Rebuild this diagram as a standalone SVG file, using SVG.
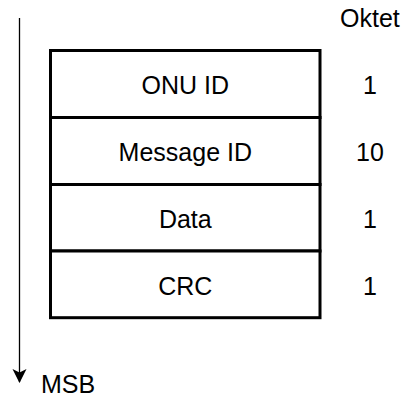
<svg xmlns="http://www.w3.org/2000/svg" width="401" height="399" viewBox="0 0 401 399">
<style>
text{font-family:"Liberation Sans",Arial,Helvetica,sans-serif;font-size:25px;fill:#000}
.c{text-anchor:middle}
.box{fill:#fff;stroke:#000;stroke-width:3}
</style>
<defs>
<marker id="ah" markerWidth="14" markerHeight="15" refX="13" refY="7" orient="auto" markerUnits="userSpaceOnUse">
<path d="M0,0 L14,7 L0,14 L3.5,7 Z" fill="#000"/>
</marker>
</defs>
<rect width="401" height="399" fill="#fff"/>
<g id="connectors">
<line x1="19.5" y1="18" x2="19.5" y2="382" stroke="#000" stroke-width="1.3" marker-end="url(#ah)"/>
</g>
<g id="onu-id"><rect class="box" x="50.5" y="50.5" width="269.5" height="67"/><text class="c" x="185.3" y="94">ONU ID</text></g>
<g id="message-id"><rect class="box" x="50.5" y="117.5" width="269.5" height="67"/><text class="c" x="185.3" y="161">Message ID</text></g>
<g id="data"><rect class="box" x="50.5" y="184.5" width="269.5" height="66.5"/><text class="c" x="185.3" y="228">Data</text></g>
<g id="crc"><rect class="box" x="50.5" y="251" width="269.5" height="66.7"/><text class="c" x="185.3" y="295">CRC</text></g>
<g id="oktet-labels">
<text x="340" y="27">Oktet</text>
<text class="c" x="370" y="94">1</text>
<text class="c" x="370" y="161">10</text>
<text class="c" x="370" y="228">1</text>
<text class="c" x="370" y="295">1</text>
</g>
<g id="msb"><text x="41" y="393">MSB</text></g>
</svg>
